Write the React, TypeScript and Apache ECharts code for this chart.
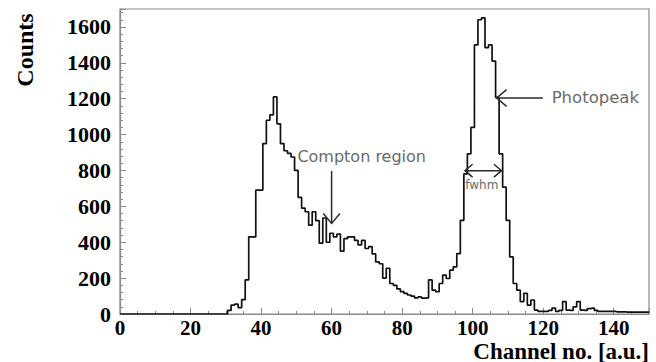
import React, { useEffect, useRef } from "react";
import * as echarts from "echarts";

// Histogram counts per channel 0..150
const channels: number[] = [
  0, 1, 2, 3, 4, 5, 6, 7, 8, 9, 10, 11, 12, 13, 14, 15, 16, 17, 18, 19, 20, 21, 22, 23, 24, 25, 26, 27, 28, 29,
  30, 31, 32, 33, 34, 35, 36, 37, 38, 39, 40, 41, 42, 43, 44, 45, 46, 47, 48, 49, 50, 51, 52, 53, 54, 55, 56, 57, 58, 59,
  60, 61, 62, 63, 64, 65, 66, 67, 68, 69, 70, 71, 72, 73, 74, 75, 76, 77, 78, 79, 80, 81, 82, 83, 84, 85, 86, 87, 88, 89,
  90, 91, 92, 93, 94, 95, 96, 97, 98, 99, 100, 101, 102, 103, 104, 105, 106, 107, 108, 109, 110, 111, 112, 113, 114, 115, 116, 117, 118, 119,
  120, 121, 122, 123, 124, 125, 126, 127, 128, 129, 130, 131, 132, 133, 134, 135, 136, 137, 138, 139, 140, 141, 142, 143, 144, 145, 146, 147, 148, 149, 150,
];
const counts: number[] = [
  0, 0, 0, 0, 0, 0, 0, 0, 0, 0, 0, 0, 0, 0, 0, 0, 0, 0, 0, 0, 0, 0, 0, 0, 0, 0, 0, 0, 0, 0,
  0, 20, 50, 55, 35, 80, 190, 430, 430, 690, 690, 950, 1080, 1110, 1210, 1060, 950, 910, 895, 875,
  800, 650, 590, 570, 495, 570, 520, 395, 535, 400, 450, 430, 445, 350, 420, 430, 430, 410, 385, 410,
  365, 375, 335, 290, 280, 200, 255, 170, 160, 140, 125, 115, 106, 100, 90, 95, 88, 90, 190, 133,
  124, 170, 217, 198, 244, 263, 337, 522, 781, 893, 1040, 1500, 1640, 1650, 1485, 1500, 1410, 1207, 893, 707,
  522, 318, 170, 133, 69, 115, 50, 78, 22, 15, 15, 15, 20, 33, 15, 20, 69, 22, 20, 40,
  69, 22, 20, 30, 33, 20, 15, 15, 15, 15, 15, 12, 12, 12, 10, 10, 10, 10, 10, 10, 10,
];

const xTickLabels: number[] = [0, 20, 40, 60, 80, 100, 120, 140];
const yTickLabels: number[] = [0, 200, 400, 600, 800, 1000, 1200, 1400, 1600];

// Annotations in data coordinates [channel, counts]
const comptonText: [number, number] = [50.3, 877];
const comptonArrow: [number, number][] = [[60.0, 797], [60.0, 505]];
const photoText: [number, number] = [122.4, 1204];
const photoArrow: [number, number][] = [[119.9, 1204], [106.8, 1204]];
const fwhmArrow: [number, number][] = [[97.8, 799], [108.2, 799]];
const fwhmText: [number, number] = [102.6, 719];

const serif = "'Liberation Serif', 'Times New Roman', serif";
const sans = "'DejaVu Sans', sans-serif";

function chevron(tip: number[], ux: number, uy: number, len: number, ang: number) {
  const c = Math.cos(ang), s = Math.sin(ang);
  return [
    [tip[0] + len * (ux * c - uy * s), tip[1] + len * (ux * s + uy * c)],
    [tip[0], tip[1]],
    [tip[0] + len * (ux * c + uy * s), tip[1] + len * (-ux * s + uy * c)],
  ];
}

export default function App() {
  const ref = useRef<HTMLDivElement>(null);
  useEffect(() => {
    if (!ref.current) return;
    const chart = echarts.init(ref.current, undefined, { renderer: "svg" });
    const axisColor = "#8a8a8a";
    chart.setOption({
      animation: false,
      backgroundColor: "#fff",
      grid: { left: 120, right: 7, top: 9, bottom: 48, show: true, borderColor: axisColor, borderWidth: 1.2 },
      xAxis: {
        type: "value",
        min: 0,
        max: 150,
        interval: 20,
        axisLine: { show: true, lineStyle: { color: axisColor, width: 1.2 } },
        axisTick: { show: true, inside: true, length: 6, lineStyle: { color: axisColor } },
        minorTick: { show: true, splitNumber: 4, length: 3, lineStyle: { color: axisColor } },
        splitLine: { show: false },
        axisLabel: {
          formatter: (v: number) => (xTickLabels.includes(v) ? String(v) : ""),
          fontFamily: serif,
          fontWeight: "bold",
          fontSize: 21,
          color: "#000",
          margin: 3,
        },
      },
      yAxis: {
        type: "value",
        min: 0,
        max: 1700,
        interval: 200,
        axisLine: { show: true, lineStyle: { color: axisColor, width: 1.2 } },
        axisTick: { show: true, inside: true, length: 6, lineStyle: { color: axisColor } },
        minorTick: { show: true, splitNumber: 5, length: 3, lineStyle: { color: axisColor } },
        splitLine: { show: false },
        axisLabel: {
          formatter: (v: number) => (yTickLabels.includes(v) ? String(v) : ""),
          fontFamily: serif,
          fontWeight: "bold",
          fontSize: 22,
          color: "#000",
          margin: 9,
        },
      },
      series: [
        {
          type: "line",
          step: "middle",
          symbol: "none",
          data: channels.map((c, i) => [c, counts[i]]),
          lineStyle: { color: "#111", width: 1.7 },
        },
      ],
    });

    const P = (d: number[]) => chart.convertToPixel({ gridIndex: 0 }, d) as number[];
    const arrowStyle = { stroke: "#2a2a2a", lineWidth: 1.5, fill: null };
    const cA0 = P(comptonArrow[0]), cA1 = P(comptonArrow[1]);
    const pA0 = P(photoArrow[0]), pA1 = P(photoArrow[1]);
    const fA0 = P(fwhmArrow[0]), fA1 = P(fwhmArrow[1]);
    const cT = P(comptonText), pT = P(photoText), fT = P(fwhmText);
    const ang = (40 * Math.PI) / 180;

    chart.setOption({
      graphic: [
        { type: "line", shape: { x1: cA0[0], y1: cA0[1], x2: cA1[0], y2: cA1[1] }, style: arrowStyle, z: 10 },
        { type: "polyline", shape: { points: chevron(cA1, 0, -1, 13, ang) }, style: arrowStyle, z: 10 },
        { type: "line", shape: { x1: pA0[0], y1: pA0[1], x2: pA1[0], y2: pA1[1] }, style: arrowStyle, z: 10 },
        { type: "polyline", shape: { points: chevron(pA1, 1, 0, 13, ang) }, style: arrowStyle, z: 10 },
        { type: "line", shape: { x1: fA0[0], y1: fA0[1], x2: fA1[0], y2: fA1[1] }, style: arrowStyle, z: 10 },
        { type: "polyline", shape: { points: chevron(fA0, 1, 0, 10, ang) }, style: arrowStyle, z: 10 },
        { type: "polyline", shape: { points: chevron(fA1, -1, 0, 10, ang) }, style: arrowStyle, z: 10 },
        {
          type: "text", x: cT[0], y: cT[1], z: 10,
          style: { text: "Compton region", fontFamily: sans, fontSize: 16, fill: "#6a6a6a", textAlign: "left", textVerticalAlign: "middle" },
        },
        {
          type: "text", x: pT[0], y: pT[1], z: 10,
          style: { text: "Photopeak", fontFamily: sans, fontSize: 16.5, fill: "#6a6a6a", textAlign: "left", textVerticalAlign: "middle" },
        },
        {
          type: "text", x: fT[0], y: fT[1], z: 10,
          style: { text: "fwhm", fontFamily: sans, fontSize: 12, fill: "#6a6a6a", textAlign: "center", textVerticalAlign: "middle" },
        },
        {
          type: "text", x: 25, y: 50, rotation: Math.PI / 2, z: 10,
          style: { text: "Counts", fontFamily: serif, fontWeight: "bold", fontSize: 24, fill: "#000", textAlign: "center", textVerticalAlign: "middle" },
        },
        {
          type: "text", x: 649, y: 351, z: 10,
          style: { text: "Channel no. [a.u.]", fontFamily: serif, fontWeight: "bold", fontSize: 23, fill: "#000", textAlign: "right", textVerticalAlign: "middle" },
        },
      ],
    });

    return () => chart.dispose();
  }, []);
  return <div ref={ref} style={{ position: "fixed", left: 0, top: 0, width: 656, height: 362 }} />;
}
